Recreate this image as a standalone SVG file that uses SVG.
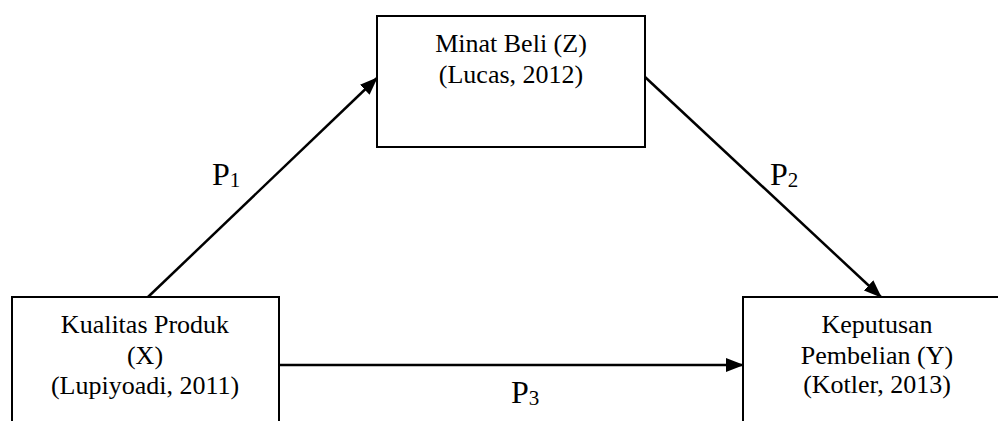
<svg xmlns="http://www.w3.org/2000/svg" width="998" height="421" viewBox="0 0 998 421">
<style>
.box{fill:#fff;stroke:#000;stroke-width:2}
.t{font-family:'Liberation Serif','Times New Roman','DejaVu Serif',serif;font-size:26px;text-anchor:middle;fill:#000}
.p{font-family:'Liberation Serif','Times New Roman','DejaVu Serif',serif;font-size:32px;fill:#000}
.s{font-size:21px}
.c{stroke:#000;stroke-width:2.5;fill:none;marker-end:url(#ah)}
</style>
<defs>
<marker id="ah" markerUnits="userSpaceOnUse" markerWidth="18" markerHeight="14" refX="17" refY="7" orient="auto">
<path d="M0,0 L18,7 L0,14 Z" fill="#000"/>
</marker>
</defs>
<rect width="998" height="421" fill="#fff"/>
<g id="connectors">
<line class="c" x1="148" y1="297" x2="377" y2="78"/>
<line class="c" x1="645" y1="77" x2="881" y2="297"/>
<line class="c" x1="279" y1="365" x2="743" y2="365"/>
</g>
<g id="node-z">
<rect class="box" x="377" y="16" width="268" height="131"/>
<text class="t" x="511" y="52" font-family="Liberation Serif, serif">Minat Beli (Z)</text>
<text class="t" x="511" y="83" font-family="Liberation Serif, serif">(Lucas, 2012)</text>
</g>
<g id="node-x">
<rect class="box" x="12" y="297" width="267" height="140"/>
<text class="t" x="145" y="333">Kualitas Produk</text>
<text class="t" x="145" y="364">(X)</text>
<text class="t" x="145" y="394">(Lupiyoadi, 2011)</text>
</g>
<g id="node-y">
<rect class="box" x="743" y="297" width="280" height="140"/>
<text class="t" x="877" y="333">Keputusan</text>
<text class="t" x="877" y="364">Pembelian (Y)</text>
<text class="t" x="877" y="393">(Kotler, 2013)</text>
</g>
<g id="labels">
<text class="p" x="212" y="185">P<tspan class="s" dy="2">1</tspan></text>
<text class="p" x="770" y="185">P<tspan class="s" dy="2">2</tspan></text>
<text class="p" x="511" y="403">P<tspan class="s" dy="2">3</tspan></text>
</g>
</svg>
